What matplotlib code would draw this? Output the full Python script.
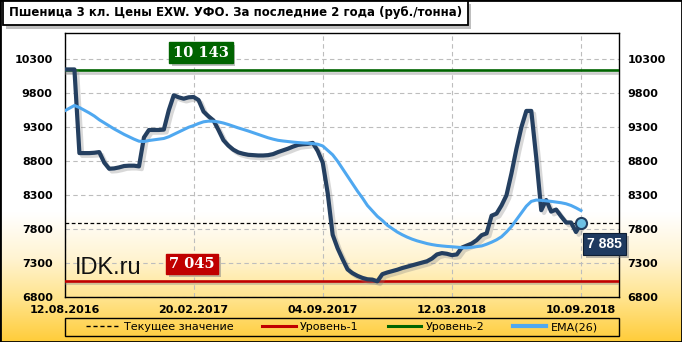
import numpy as np
import matplotlib
matplotlib.use("Agg")
import matplotlib.pyplot as plt
import matplotlib.patheffects as pe
from matplotlib.lines import Line2D
from matplotlib.patches import Rectangle

# ---------------- data ----------------
title = "Пшеница 3 кл. Цены EXW. УФО. За последние 2 года (руб./тонна)"
tick_labels = ["12.08.2016", "20.02.2017", "04.09.2017", "12.03.2018", "10.09.2018"]
tick_index = [0, 26, 52, 78, 104]
y_ticks = [6800, 7300, 7800, 8300, 8800, 9300, 9800, 10300]

price = [10150, 10150, 10150, 8920, 8920, 8920, 8925, 8935, 8780, 8690,
         8695, 8710, 8730, 8735, 8735, 8725, 9150, 9260, 9260, 9260,
         9265, 9550, 9770, 9740, 9720, 9740, 9745, 9700, 9530, 9460,
         9400, 9260, 9110, 9030, 8970, 8930, 8910, 8895, 8890, 8885,
         8885, 8890, 8905, 8935, 8960, 8985, 9015, 9040, 9050, 9055,
         9070, 8950, 8780, 8330, 7720, 7520, 7360, 7210, 7155, 7115,
         7085, 7065, 7060, 7035, 7140, 7165, 7185, 7205, 7230, 7250,
         7270, 7290, 7310, 7330, 7370, 7430, 7450, 7440, 7420, 7430,
         7530, 7560, 7590, 7640, 7713, 7740, 8000, 8030, 8150, 8300,
         8620, 8980, 9300, 9540, 9540, 8850, 8080, 8230, 8060, 8090,
         7990, 7900, 7900, 7760, 7885]

ema26 = [9540, 9580, 9620, 9590, 9550, 9510, 9465, 9410, 9365, 9320,
         9275, 9235, 9195, 9160, 9125, 9095, 9090, 9105, 9115, 9125,
         9135, 9160, 9195, 9230, 9265, 9300, 9325, 9355, 9380, 9390,
         9388, 9378, 9362, 9340, 9315, 9290, 9268, 9245, 9220, 9195,
         9170, 9145, 9125, 9108, 9098, 9090, 9082, 9075, 9070, 9065,
         9060, 9050, 9025, 8960, 8895, 8800, 8690, 8580, 8470, 8360,
         8260, 8150, 8070, 7990, 7930, 7860, 7810, 7760, 7720, 7685,
         7655, 7630, 7610, 7590, 7575, 7563, 7555, 7548, 7543, 7537,
         7530, 7528, 7535, 7545, 7555, 7580, 7610, 7645, 7690, 7760,
         7840, 7940, 8040, 8140, 8210, 8230, 8225, 8218, 8210, 8200,
         8190, 8175, 8150, 8115, 8075]

level1 = 7045
level2 = 10143
current_value = 7885

legend_labels = ["Текущее значение", "Уровень-1", "Уровень-2", "EMA(26)"]

# ---------------- style ----------------
W, H = 682, 342
DPI = 100
C_PRICE = "#243F60"
C_EMA = "#4FA8F0"
C_RED = "#C00000"
C_GREEN = "#006400"

fig = plt.figure(figsize=(W / DPI, H / DPI), dpi=DPI)

# background gradient (white -> gold at bottom)
rows = np.arange(H)
stops_y = [0, 212, 258, 297, 342]
stops_c = [(1, 1, 1), (1, 1, 1), (1.0, 0.955, 0.82), (1.0, 0.895, 0.56), (1.0, 0.80, 0.22)]
grad = np.stack([np.interp(rows, stops_y, [c[k] for c in stops_c]) for k in range(3)], axis=-1)
img = np.repeat(grad[:, None, :], 2, axis=1)
bg = fig.add_axes([0, 0, 1, 1], zorder=-10)
bg.imshow(img, aspect="auto", extent=[0, 1, 0, 1], interpolation="bilinear")
bg.axis("off")

# main axes
px_l, px_r, px_t, px_b = 64.5, 618.7, 32.7, 297.3
ax = fig.add_axes([px_l / W, (H - px_b) / H, (px_r - px_l) / W, (px_b - px_t) / H])
ax.set_facecolor("none")
x = np.arange(len(price))
ax.set_xlim(0, 111.6)
ax.set_ylim(6800, 10690)

ax.set_yticks(y_ticks)
ax.set_yticklabels([str(v) for v in y_ticks])
ax.set_xticks(tick_index)
ax.set_xticklabels(tick_labels)
ax.tick_params(axis="both", length=0, labelsize=8)
ax.tick_params(axis="y", pad=8.5)
ax.tick_params(axis="x", pad=5.5)
for lab in ax.get_xticklabels() + ax.get_yticklabels():
    lab.set_fontweight("bold")
ax.grid(True, color="#BDBDBD", linestyle=(0, (4, 3)), linewidth=0.8)
ax.set_axisbelow(True)
for s in ax.spines.values():
    s.set_linewidth(1.0)
    s.set_color("black")

ax2 = ax.twinx()
ax2.set_ylim(ax.get_ylim())
ax2.set_yticks(y_ticks)
ax2.set_yticklabels([str(v) for v in y_ticks])
ax2.tick_params(axis="y", length=0, labelsize=8, pad=6.5)
for lab in ax2.get_yticklabels():
    lab.set_fontweight("bold")
for s in ax2.spines.values():
    s.set_visible(False)

# level lines
shadow_lvl = [pe.SimpleLineShadow(offset=(1, -2), shadow_color="gray", alpha=0.4), pe.Normal()]
ax.axhline(level2, color=C_GREEN, lw=1.9, path_effects=shadow_lvl, zorder=3)
ax.axhline(level1, color=C_RED, lw=1.9, path_effects=shadow_lvl, zorder=3)
ax.axhline(current_value, color="black", lw=0.9, linestyle=(0, (3, 2)), zorder=3)

# price line
ax.plot(x, price, color=C_PRICE, lw=3.0, solid_joinstyle="round", solid_capstyle="round",
        path_effects=[pe.SimpleLineShadow(offset=(2, -2), shadow_color="gray", alpha=0.3), pe.Normal()],
        zorder=4)
# EMA line
ax.plot(np.arange(len(ema26)), ema26, color=C_EMA, lw=2.2, solid_joinstyle="round", zorder=5)

# last point marker
ax.plot([x[-1]], [price[-1]], marker="o", markersize=8, markerfacecolor="#6EC1E4",
        markeredgecolor=C_PRICE, markeredgewidth=1.5, zorder=6, clip_on=False)

def fmt(v):
    return f"{v:,}".replace(",", " ")

box_shadow = [pe.withSimplePatchShadow(offset=(2, -2), shadow_rgbFace="gray", alpha=0.5)]

t = ax.annotate(fmt(level2), xy=(27.5, level2), xytext=(0, 12.3), textcoords="offset points",
                ha="center", va="center", color="white", fontsize=10.5, fontweight="bold",
                family="DejaVu Serif", zorder=7,
                bbox=dict(boxstyle="square,pad=0.25", fc=C_GREEN, ec=C_GREEN))
t.get_bbox_patch().set_path_effects(box_shadow)

t = ax.annotate(fmt(level1), xy=(25.7, level1), xytext=(0, 12.0), textcoords="offset points",
                ha="center", va="center", color="white", fontsize=10.5, fontweight="bold",
                family="DejaVu Serif", zorder=7,
                bbox=dict(boxstyle="square,pad=0.22", fc=C_RED, ec=C_RED))
t.get_bbox_patch().set_path_effects(box_shadow)

t = ax.annotate(fmt(current_value), xy=(x[-1], price[-1]), xytext=(17, -15), textcoords="offset points",
                ha="center", va="center", color="white", fontsize=10, fontweight="bold",
                family="Liberation Sans", zorder=8, annotation_clip=False,
                bbox=dict(boxstyle="square,pad=0.3", fc="#1F3A5F", ec="#0E1E33", lw=0.8))
t.get_bbox_patch().set_path_effects(box_shadow)

ax.text((75 - px_l) / (px_r - px_l), (px_b - 274) / (px_b - px_t), "IDK.ru",
        transform=ax.transAxes, fontsize=17, family="Liberation Sans", color="#111111",
        ha="left", va="baseline", zorder=7)

# title box
tt = fig.text(9 / W, (H - 12.5) / H, title, fontsize=8.5, fontweight="bold", family="DejaVu Sans",
              ha="left", va="center",
              bbox=dict(boxstyle="square,pad=0.5", fc="white", ec="black", lw=1.3))
tt.get_bbox_patch().set_path_effects([pe.withSimplePatchShadow(offset=(2, -3), shadow_rgbFace="gray", alpha=0.5)])

# legend (frame drawn separately to span the plot width)
handles = [
    Line2D([], [], color="black", lw=1.0, linestyle=(0, (3, 2))),
    Line2D([], [], color=C_RED, lw=2.2),
    Line2D([], [], color=C_GREEN, lw=2.2),
    Line2D([], [], color=C_EMA, lw=3.0),
]
leg = fig.legend(handles, legend_labels, loc="center", ncol=4,
                 bbox_to_anchor=(342 / W, (H - 327) / H),
                 fontsize=8, frameon=False, handlelength=3.0,
                 handletextpad=0.4, borderpad=0.2, columnspacing=2.6)
fig.patches.append(Rectangle((px_l / W, (H - 336) / H), (px_r - px_l) / W, 18 / H,
                             transform=fig.transFigure, fill=False, ec="black", lw=1.0, zorder=5))

# figure border
fig.patches.append(Rectangle((0, 0), 1, 1, transform=fig.transFigure, fill=False,
                             ec="black", lw=2.0, zorder=20))

fig.savefig("out.png", dpi=DPI)
